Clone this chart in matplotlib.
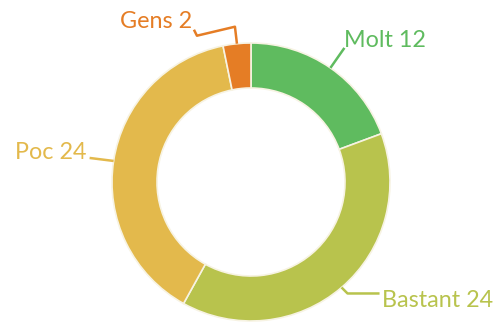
import numpy as np
import matplotlib.pyplot as plt

labels = ['Molt', 'Bastant', 'Poc', 'Gens']
values = [12, 24, 24, 2]
colors = ['#5fbb5f', '#b8c34d', '#e3b94c', '#e57d25']

plt.rcParams['font.family'] = ['Lato', 'DejaVu Sans']

fig = plt.figure(figsize=(5.04, 3.22), dpi=100)
ax = fig.add_axes([0, 0, 1, 1])

cx, cy, r_out, ring = 251, 140, 139, 45
ax.pie(values, colors=colors, startangle=90, counterclock=False,
       center=(cx, cy), radius=r_out, frame=True,
       wedgeprops=dict(width=ring, edgecolor='#f7f3e3', linewidth=1.2))

# label placement: (offsets of leader path from the ring point, text anchor)
layout = {
    'Molt': ([(14, 20)], (14, 27), 'left'),
    'Bastant': ([(6, -6), (38, -6)], (40, -13), 'left'),
    'Poc': ([(-24, 3)], (-27, 8), 'right'),
    'Gens': ([(-2, 17), (-40, 8), (-43, 14)], (-45, 22), 'right'),
}

total = sum(values)
start = 90.0
for name, v, c in zip(labels, values, colors):
    sweep = 360.0 * v / total
    mid = np.radians(start - sweep / 2)
    start -= sweep
    px, py = cx + r_out * np.cos(mid), cy + r_out * np.sin(mid)
    path, (tx, ty), ha = layout[name]
    xs = [px] + [px + dx for dx, dy in path]
    ys = [py] + [py + dy for dx, dy in path]
    ax.plot(xs, ys, color=c, lw=1.8, solid_capstyle='butt')
    ax.text(px + tx, py + ty, f'{name} {v}', color=c, fontsize=16.8,
            ha=ha, va='center')

ax.set_xlim(0, 504)
ax.set_ylim(0, 322)
ax.set_aspect('equal')
ax.axis('off')

fig.savefig('out.png', dpi=100)
